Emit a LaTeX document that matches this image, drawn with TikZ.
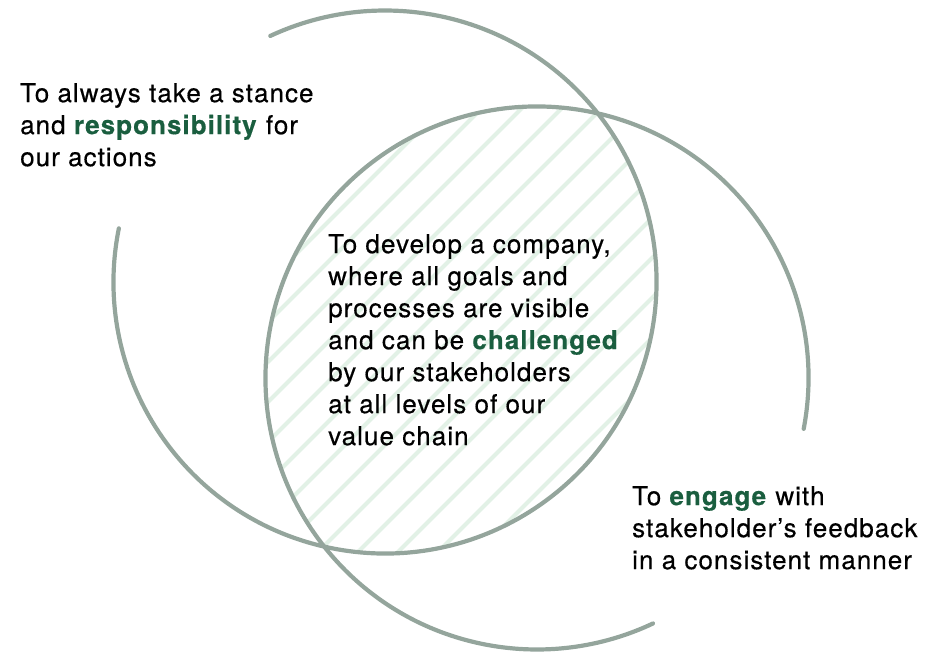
\documentclass[tikz,border=0pt]{standalone}
\usepackage{fontspec}
\setmainfont{TeX Gyre Heros}[LetterSpace=4, FakeBold=0.4]
\definecolor{ringgray}{RGB}{148, 165, 156}
\definecolor{leafgreen}{RGB}{26, 94, 63}
\definecolor{hatchmint}{RGB}{226, 241, 230}
\usetikzlibrary{positioning}
\newcommand{\keyword}[1]{\textcolor{leafgreen}{\textbf{#1}}}

\begin{document}
\begin{tikzpicture}[
        x=1pt, y=1pt,
        ring/.style={line width=4.2pt, ringgray, line cap=round},
        hatch/.style={line width=4pt, hatchmint},
        label/.style={anchor=north west, inner sep=0pt, align=left, font=\fontsize{26}{32}\selectfont}
    ]
        \useasboundingbox (0,0) rectangle (925,651);
        \coordinate (ca) at (385,369);
        \coordinate (cb) at (537,273);

        % Lens hatching
        \begin{scope}
            \clip (ca) circle[radius=271.5];
            \clip (cb) circle[radius=271.5];
            \foreach \k in {-20,...,20}
                \draw[hatch] (19+40*\k,0) -- ++(651,651);
        \end{scope}

        % Circles
        \draw[ring] (ca) ++(168.6:271.5) arc[start angle=168.6, end angle=475, radius=271.5];
        \draw[ring] (cb) ++(-10.8:271.5) arc[start angle=-10.8, end angle=295.3, radius=271.5];

        % Texts
        \node[label] (stance) at (20,568) {To always take a stance\\and \keyword{responsibility} for\\our actions};
        \node[label] (develop) at (328,417) {To develop a company,\\where all goals and\\processes are visible\\and can be \keyword{challenged}\\by our stakeholders\\at all levels of our\\value chain};
        \node[label] (engage) at (632,165) {To \keyword{engage} with\\stakeholder’s feedback\\in a consistent manner};
    \end{tikzpicture}
\end{document}
